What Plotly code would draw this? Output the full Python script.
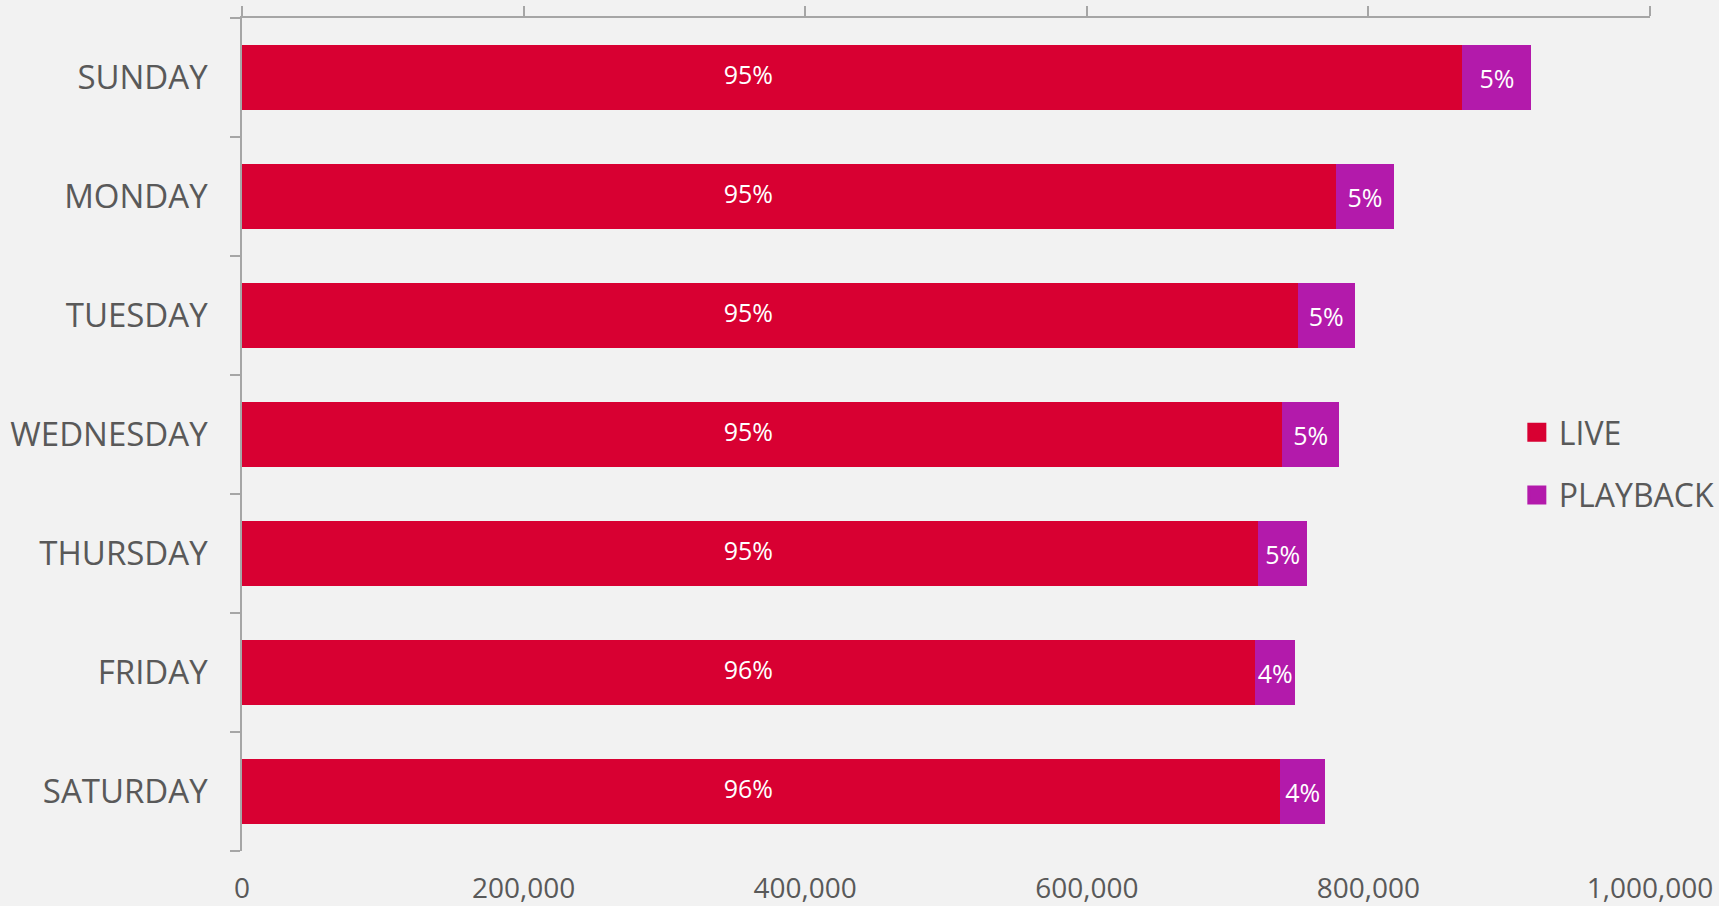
import plotly.graph_objects as go

days = ["SUNDAY", "MONDAY", "TUESDAY", "WEDNESDAY", "THURSDAY", "FRIDAY", "SATURDAY"]
live = [866700, 777000, 749700, 738800, 721600, 719300, 737300]
playback = [49100, 41100, 40600, 40500, 35100, 28900, 32000]
live_pct = ["95%", "95%", "95%", "95%", "95%", "96%", "96%"]
playback_pct = ["5%", "5%", "5%", "5%", "5%", "4%", "4%"]
x_ticks = [0, 200000, 400000, 600000, 800000, 1000000]

FONT = "Open Sans"
GRAY = "#A6A6A6"
TXT = "#595959"
LIVE_C = "#D80032"
PB_C = "#B31AAB"

fig = go.Figure()
fig.add_trace(go.Bar(
    y=days, x=live, name="LIVE", orientation="h",
    marker=dict(color=LIVE_C, line=dict(width=0)),
    showlegend=False, hoverinfo="x+y",
))
fig.add_trace(go.Bar(
    y=days, x=playback, name="PLAYBACK", orientation="h",
    marker=dict(color=PB_C, line=dict(width=0)),
    text=playback_pct, textposition="inside", insidetextanchor="middle",
    textangle=0, constraintext="none",
    textfont=dict(family=FONT, size=25, color="white"),
    showlegend=False,
))
# live share labels, anchored in the common part of all live bars
label_x = min(live) / 2
fig.add_trace(go.Scatter(
    y=days, x=[label_x] * len(days), mode="text", text=live_pct,
    textposition="middle center",
    textfont=dict(family=FONT, size=25, color="white"),
    showlegend=False, hoverinfo="skip",
))
# invisible trace to carry the bottom label axis
fig.add_trace(go.Scatter(
    x=[0, 1000000], y=[days[0], days[0]], xaxis="x2", mode="markers",
    marker=dict(opacity=0), showlegend=False, hoverinfo="skip",
))
# legend entries with large square swatches
for nm, col in [("LIVE", LIVE_C), ("PLAYBACK", PB_C)]:
    fig.add_trace(go.Scatter(
        x=[None], y=[None], mode="markers", name=nm, legendgroup=nm,
        marker=dict(symbol="square", size=20, color=col,
                    line=dict(width=3, color=col)),
    ))

fig.update_layout(
    width=1719, height=906,
    paper_bgcolor="#F2F2F2", plot_bgcolor="#F2F2F2",
    barmode="stack", bargap=0.45,
    margin=dict(l=242, r=69, t=18, b=55, autoexpand=False),
    font=dict(family=FONT, color=TXT),
    legend=dict(
        x=0.904, y=0.4646, xanchor="left", yanchor="middle",
        font=dict(family=FONT, size=32, color=TXT),
        bgcolor="rgba(0,0,0,0)", tracegroupgap=18,
        traceorder="grouped", itemsizing="trace", itemwidth=34,
    ),
    xaxis=dict(
        side="top", range=[0, 1000000], tickvals=x_ticks,
        showticklabels=False, showgrid=False, zeroline=False,
        showline=True, linecolor=GRAY, linewidth=1.5,
        ticks="outside", ticklen=10, tickcolor=GRAY, tickwidth=1.5,
        automargin=False,
    ),
    xaxis2=dict(
        overlaying="x", matches="x", side="bottom", anchor="y",
        range=[0, 1000000], tickvals=x_ticks, tickformat=",",
        showgrid=False, zeroline=False, showline=False, ticks="",
        ticklabelstandoff=18, automargin=False,
        tickfont=dict(family=FONT, size=28, color=TXT),
    ),
    yaxis=dict(
        categoryorder="array", categoryarray=days[::-1],
        showline=True, linecolor=GRAY, linewidth=1.5,
        ticks="outside", tickson="boundaries", ticklen=10,
        tickcolor=GRAY, tickwidth=1.5, showgrid=False,
        ticklabelstandoff=26, automargin=False,
        tickfont=dict(family=FONT, size=33, color=TXT),
    ),
)

fig.write_html(
    "out.html",
    config=dict(displayModeBar=False),
    post_script="document.body.style.margin='0';"
                "document.body.style.background='#F2F2F2';"
                "document.documentElement.style.overflow='hidden';",
)
